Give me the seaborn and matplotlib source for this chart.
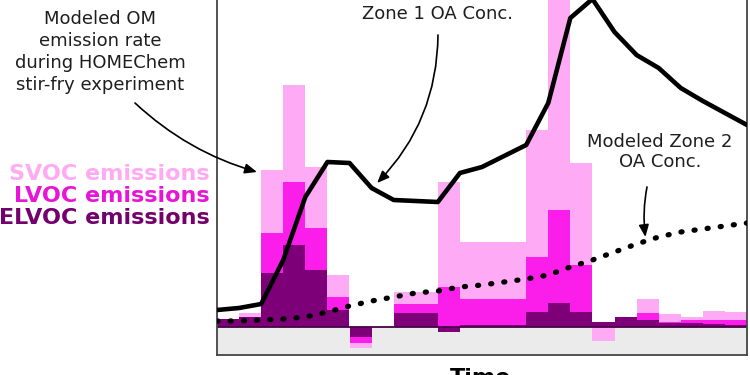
import numpy as np
import matplotlib
matplotlib.use("Agg")
import matplotlib.pyplot as plt
import seaborn as sns

# time bins (arbitrary units, 24 equal bins)
n_bins = 24
bin_edges = np.arange(n_bins + 1)

# modeled OM emission rate per bin (arbitrary units)
elvoc = [0.8, 1.0, 5.4, 8.2, 5.7, 1.7, -1.0, 0.0, 1.4, 1.4, -0.5, 0.2,
         0.2, 0.2, 1.5, 2.4, 1.5, 0.5, 1.0, 0.7, 0.4, 0.4, 0.3, 0.2]
lvoc = [0.0, 0.0, 4.0, 6.3, 4.2, 1.3, -0.6, 0.0, 0.9, 0.9, 4.0, 2.6,
        2.6, 2.6, 5.5, 9.3, 4.7, 0.0, 0.0, 0.7, 0.1, 0.3, 0.4, 0.5]
svoc = [0.0, 0.4, 6.3, 9.7, 6.1, 2.2, -0.5, 0.0, 1.2, 1.2, 10.5, 5.7,
        5.7, 5.7, 12.7, 24.0, 10.2, -1.4, 0.0, 1.4, 0.8, 0.3, 0.9, 0.8]

# OA concentrations at bin edges
zone1_oa = [1.7, 1.9, 2.3, 6.7, 13.0, 16.5, 16.4, 13.9, 12.7, 12.6, 12.5, 15.4,
            16.0, 17.1, 18.2, 22.4, 30.9, 32.8, 29.5, 27.2, 25.9, 23.9, 22.6, 21.4, 20.2]
zone2_oa = [0.6, 0.6, 0.7, 0.8, 1.0, 1.5, 2.1, 2.6, 3.0, 3.4, 3.6, 4.0,
            4.2, 4.5, 4.8, 5.2, 6.0, 6.7, 7.5, 8.3, 9.0, 9.5, 9.8, 10.1, 10.4]

colors = {"ELVOC": "#7d0079", "LVOC": "#fb1de9", "SVOC": "#ffaaf4"}
label_colors = {"SVOC": "#ffaaf2", "LVOC": "#e815d6", "ELVOC": "#74006c"}

sns.set_theme(style="white")
plt.rcParams['font.family'] = ['DejaVu Sans']

fig = plt.figure(figsize=(7.5, 3.75), dpi=100)
ax = fig.add_axes([217/750, 20/375, 530/750, 370/375])

ymin, ymax = -2.8, 34.2
ax.axhspan(ymin, 0, color="#ebebeb", zorder=0, lw=0)

# stacked bars, positives up and negatives down
pos = np.zeros(n_bins)
neg = np.zeros(n_bins)
for name, vals in [("ELVOC", elvoc), ("LVOC", lvoc), ("SVOC", svoc)]:
    v = np.array(vals)
    base = np.where(v >= 0, pos, neg)
    ax.bar(bin_edges[:-1], v, width=1.0, bottom=base, align="edge",
           color=colors[name], lw=0, zorder=1)
    pos = pos + np.clip(v, 0, None)
    neg = neg + np.clip(v, None, 0)

ax.axhline(0, color="#4a0048", lw=1.3, zorder=2)

sns.lineplot(x=bin_edges, y=zone1_oa, color="black", lw=3.3, ax=ax, zorder=3,
             solid_joinstyle="round")
sns.lineplot(x=bin_edges, y=zone2_oa, color="black", lw=3.8, ax=ax, zorder=3,
             linestyle=(0, (0.2, 2.3)), dash_capstyle="round")

ax.set_xlim(0, n_bins)
ax.set_ylim(ymin, ymax)
ax.set_xticks([])
ax.set_yticks([])
ax.set_xlabel("")
ax.set_ylabel("")
for s in ax.spines.values():
    s.set_color("#444444")
    s.set_linewidth(1.3)

def fx(px):
    return px / 750

def fy(py):
    return 1 - py / 375

# annotations
fig.text(fx(100), fy(52), "Modeled OM\nemission rate\nduring HOMEChem\nstir-fry experiment",
         ha="center", va="center", fontsize=13, linespacing=1.27, color="#1e1e1e")
fig.text(fx(437), fy(14), "Zone 1 OA Conc.", ha="center", va="center",
         fontsize=13, color="#1e1e1e")
fig.text(fx(660), fy(152), "Modeled Zone 2\nOA Conc.", ha="center", va="center",
         fontsize=13, linespacing=1.15, color="#1e1e1e")

arrow_kw = dict(arrowstyle="-|>,head_length=0.6,head_width=0.25", color="black",
                lw=1.2, shrinkA=0, shrinkB=0, mutation_scale=12)
ax.annotate("", xy=(1.81, 15.5), xycoords="data",
            xytext=(fx(135), fy(103)), textcoords="figure fraction",
            arrowprops=dict(connectionstyle="arc3,rad=0.12", **arrow_kw))
ax.annotate("", xy=(7.25, 14.4), xycoords="data",
            xytext=(fx(438), fy(35)), textcoords="figure fraction",
            arrowprops=dict(connectionstyle="arc3,rad=-0.2", **arrow_kw))
ax.annotate("", xy=(19.4, 9.0), xycoords="data",
            xytext=(fx(647), fy(187)), textcoords="figure fraction",
            arrowprops=dict(connectionstyle="arc3,rad=0.08", **arrow_kw))

# legend-like labels
for name, py in [("SVOC", 174), ("LVOC", 196), ("ELVOC", 218)]:
    fig.text(fx(210), fy(py), f"{name} emissions", ha="right", va="center",
             fontsize=16, fontweight="bold", color=label_colors[name])

# axis label, cut by the lower edge as in the source figure
fig.text(fx(480), fy(384), "Time", ha="center", va="baseline",
         fontsize=16, fontweight="bold", color="black")

fig.savefig("out.png", dpi=100)
